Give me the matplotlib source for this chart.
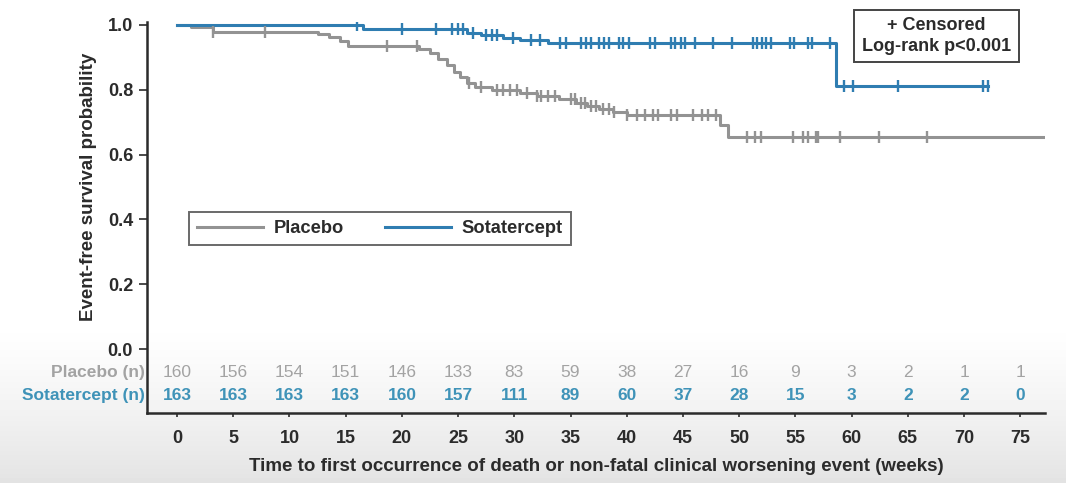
import numpy as np
import matplotlib
matplotlib.use("Agg")
import matplotlib.pyplot as plt

plt.rcParams['font.family'] = ['Liberation Sans', 'DejaVu Sans']

# Kaplan-Meier steps: time (weeks) and survival after the step
placebo_t = [0, 1.2, 3.2, 12.5, 13.5, 14.5, 15.2, 21.5, 22.5, 23.2, 24.0, 24.6, 25.2,
             25.8, 26.5, 28.0, 30.5, 32.0, 34.0, 35.5, 36.5, 37.5, 38.8, 40.0, 48.3, 49.0]
placebo_s = [1.0, 0.994, 0.978, 0.972, 0.962, 0.950, 0.935, 0.925, 0.912, 0.895, 0.875,
             0.855, 0.840, 0.822, 0.808, 0.800, 0.790, 0.780, 0.770, 0.760, 0.750, 0.740,
             0.730, 0.722, 0.690, 0.654]
placebo_end = 77.7
placebo_cens = [3.2, 7.8, 18.7, 21.3, 26.0, 27.0, 28.5, 29.0, 29.6, 30.2, 31.1, 32.0, 32.4,
                33.0, 33.6, 35.0, 35.4, 35.9, 36.3, 36.8, 37.3, 37.9, 38.4, 38.9, 40.0,
                40.9, 41.6, 42.3, 42.8, 43.9, 44.5, 45.9, 46.7, 47.2, 47.9, 50.7, 51.4,
                51.9, 54.8, 55.7, 56.1, 56.8, 57.0, 59.0, 62.4, 66.7]

sotatercept_t = [0, 16.5, 25.8, 27.0, 29.0, 30.5, 33.0, 58.6]
sotatercept_s = [1.0, 0.988, 0.976, 0.968, 0.960, 0.952, 0.945, 0.810]
sotatercept_end = 72.1
sotatercept_cens = [16.0, 20.0, 23.0, 24.5, 25.0, 25.4, 26.3, 27.5, 28.0, 28.5, 29.9, 31.5,
                    32.3, 34.1, 34.6, 35.9, 36.4, 36.8, 37.5, 38.0, 38.4, 39.3, 39.7, 40.2,
                    42.1, 42.5, 43.9, 44.3, 44.8, 45.2, 46.1, 47.7, 49.4, 51.2, 51.6, 52.0,
                    52.4, 52.8, 54.5, 54.9, 56.1, 56.5, 58.1, 59.3, 60.1, 64.1, 71.7, 72.1]

risk_weeks = [0, 5, 10, 15, 20, 25, 30, 35, 40, 45, 50, 55, 60, 65, 70, 75]
placebo_n = [160, 156, 154, 151, 146, 133, 83, 59, 38, 27, 16, 9, 3, 2, 1, 1]
sotatercept_n = [163, 163, 163, 163, 160, 157, 111, 89, 60, 37, 28, 15, 3, 2, 2, 0]

gray = '#939393'
blue = '#2f7db1'
gray_txt = '#a3a3a3'
blue_txt = '#3f93b8'
dark = '#2b2b2b'

fig = plt.figure(figsize=(10.66, 4.83), dpi=100)

# soft shading towards the bottom edge
bg = fig.add_axes([0, 0, 1, 1], zorder=-5)
grad = np.ones((483, 1))
rows = np.arange(483)
low = rows > 320
grad[low, 0] = 1.0 - 0.11 * ((rows[low] - 320) / 163.0) ** 1.3
bg.imshow(grad, aspect='auto', cmap='gray', vmin=0, vmax=1, extent=[0, 1, 0, 1])
bg.axis('off')

ax = fig.add_axes([0.1379, 0.1449, 0.8424, 0.8096])
ax.set_facecolor('none')


def km_line(times, surv, end, cens, color, label):
    t = list(times) + [end]
    s = list(surv) + [surv[-1]]
    ax.step(t, s, where='post', color=color, lw=2.2, label=label, zorder=3)
    idx = np.searchsorted(times, cens, side='right') - 1
    ax.plot(cens, np.array(surv)[idx], ls='none', marker='|', ms=8, mew=1.7,
            color=color, zorder=4)


km_line(placebo_t, placebo_s, placebo_end, placebo_cens, gray, 'Placebo')
km_line(sotatercept_t, sotatercept_s, sotatercept_end, sotatercept_cens, blue, 'Sotatercept')

ax.set_xlim(-2.67, 77.2)
ax.set_ylim(-0.1975, 1.009)
ax.set_yticks([0.0, 0.2, 0.4, 0.6, 0.8, 1.0])
ax.set_yticklabels(['0.0', '0.2', '0.4', '0.6', '0.8', '1.0'])
ax.set_xticks(risk_weeks)
for sp in ['top', 'right']:
    ax.spines[sp].set_visible(False)
for sp in ['left', 'bottom']:
    ax.spines[sp].set_color(dark)
    ax.spines[sp].set_linewidth(1.8)
ax.tick_params(axis='y', length=6, width=1.2, color=dark, pad=4,
               labelsize=13, labelcolor=dark)
ax.tick_params(axis='x', length=3, width=1.2, color=dark, pad=9,
               labelsize=13, labelcolor=dark)
for lab in ax.get_xticklabels() + ax.get_yticklabels():
    lab.set_fontweight('bold')

ax.set_xlabel('Time to first occurrence of death or non-fatal clinical worsening event (weeks)',
              fontsize=13.5, fontweight='bold', color=dark, labelpad=8)
fig.text(0.083, 1 - 187 / 483, 'Event-free survival probability', rotation=90,
         ha='center', va='center', fontsize=13.5, fontweight='bold', color=dark)

# numbers at risk
for w, n in zip(risk_weeks, placebo_n):
    ax.text(w, -0.074, str(n), ha='center', va='center', fontsize=12.5, color=gray_txt)
for w, n in zip(risk_weeks, sotatercept_n):
    ax.text(w, -0.145, str(n), ha='center', va='center', fontsize=12.5, color=blue_txt,
            fontweight='bold')
ax.text(-0.002, -0.074, 'Placebo (n)', transform=ax.get_yaxis_transform(), ha='right',
        va='center', fontsize=12.5, color=gray_txt, fontweight='bold')
ax.text(-0.002, -0.145, 'Sotatercept (n)', transform=ax.get_yaxis_transform(), ha='right',
        va='center', fontsize=12.5, color=blue_txt, fontweight='bold')

leg = ax.legend(loc='center', bbox_to_anchor=(0.3565, 0.527), bbox_transform=fig.transFigure,
                ncol=2, frameon=True, fancybox=False, handlelength=3.6, handletextpad=0.6,
                columnspacing=2.2, borderpad=0.45, prop={'size': 13.2, 'weight': 'bold'})
leg.get_frame().set_edgecolor('#444444')
leg.get_frame().set_linewidth(1.4)
for txt in leg.get_texts():
    txt.set_color(dark)

fig.text(0.8785, 0.9255, '+ Censored\nLog-rank p<0.001', ha='center', va='center',
         fontsize=13, fontweight='bold', color=dark, linespacing=1.25,
         bbox=dict(boxstyle='square,pad=0.42', facecolor='white', edgecolor='#444444', lw=1.4))

fig.savefig('out.png', dpi=100)
